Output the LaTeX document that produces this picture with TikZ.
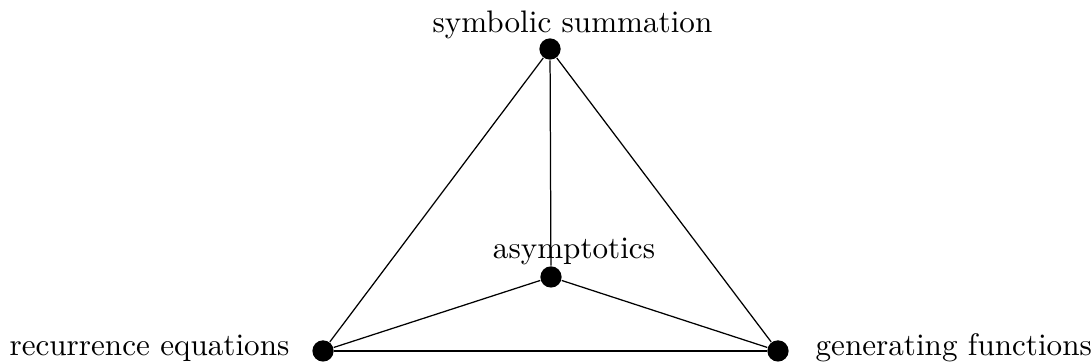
\documentclass[tikz,border=0pt]{standalone}
\usepackage{tikz}
\usetikzlibrary{positioning}

\begin{document}
\begin{tikzpicture}[
            punto/.style={circle, fill=black, inner sep=0pt, minimum size=0.24cm},
            etiqueta/.style={inner sep=0pt},
            arista/.style={thin}
        ]
            \useasboundingbox (0, 0) rectangle (12.314, 4.108);

            % Vertices
            \node[punto] (sum) at (6.208, 3.555) {};
            \node[punto] (asin) at (6.219, 0.982) {};
            \node[punto] (rec) at (3.646, 0.147) {};
            \node[punto] (gen) at (8.781, 0.147) {};

            % Etiquetas
            \node[etiqueta, anchor=base] (t_sum) at (6.462, 3.736) {symbolic summation};
            \node[etiqueta, anchor=base] (t_asin) at (6.479, 1.185) {asymptotics};
            \node[etiqueta, anchor=base east] (t_rec) at (3.273, 0.090) {recurrence equations};
            \node[etiqueta, anchor=base west] (t_gen) at (9.199, 0.090) {generating functions};

            % Aristas
            \draw[arista] (sum) -- (asin);
            \draw[arista] (sum) -- (rec);
            \draw[arista] (sum) -- (gen);
            \draw[arista] (asin) -- (rec);
            \draw[arista] (asin) -- (gen);
            \draw[arista] (rec) -- (gen);

        \end{tikzpicture}
\end{document}
